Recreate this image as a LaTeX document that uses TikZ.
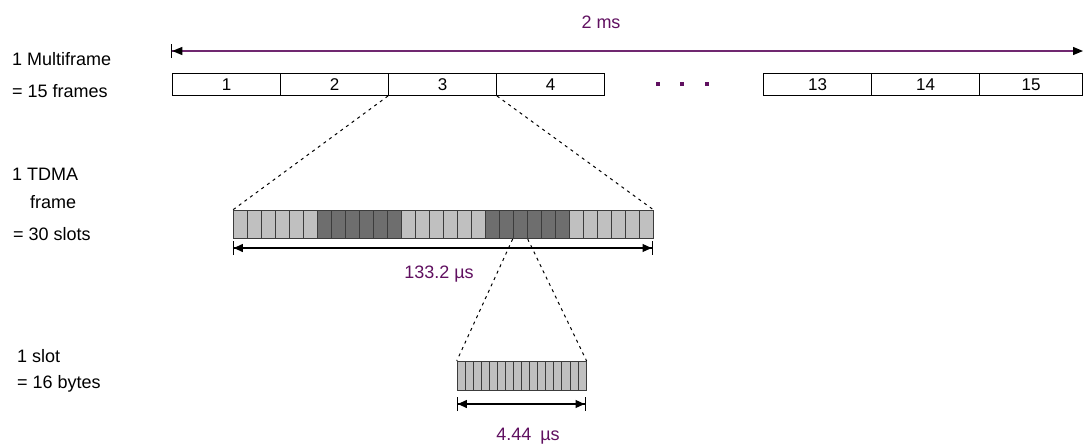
\documentclass[tikz,border=0pt]{standalone}
\usepackage{fontspec}
\setmainfont{Liberation Sans}
\usetikzlibrary{arrows.meta}
\definecolor{plum}{RGB}{96,16,96}
\definecolor{plumline}{RGB}{112,40,112}
\definecolor{lightslot}{RGB}{192,192,192}
\definecolor{darkslot}{RGB}{110,110,110}
\definecolor{slotedge}{RGB}{60,60,60}
\begin{document}
\begin{tikzpicture}[x=1pt,y=-1pt,
  lbl/.style={anchor=base west,inner sep=0pt,font=\fontsize{18}{20}\selectfont},
  plumlbl/.style={anchor=base,inner sep=0pt,text=plum,font=\fontsize{18}{20}\selectfont},
  framebox/.style={draw,line width=1pt,anchor=north west,minimum width=108pt,minimum height=22pt,inner sep=0pt,font=\fontsize{17}{18}\selectfont},
  slotbox/.style={draw=slotedge,line width=1pt,anchor=north west,minimum width=14pt,minimum height=28pt,inner sep=0pt},
  bytebox/.style={draw=slotedge,line width=1pt,fill=lightslot,anchor=north west,minimum width=8.06pt,minimum height=29pt,inner sep=0pt},
  zoomline/.style={line width=1pt,dash pattern=on 3pt off 4pt},
  span/.style={line width=1.2pt,{Bar[width=14pt,line width=1.2pt]Triangle[length=9pt,width=8pt]}-{Triangle[length=9pt,width=8pt]Bar[width=14pt,line width=1.2pt]}},
  dotmark/.style={fill=plum,inner sep=0pt,minimum size=3.5pt}
]
\useasboundingbox (0,0) rectangle (1083,445);

% 2 ms span
\coordinate (msl) at (171,51);
\coordinate (msr) at (1083,51);
\draw[line width=1.3pt,plumline,{Bar[width=14pt,line width=1.3pt,black]Triangle[length=10pt,width=8pt,black]}-{Triangle[length=10pt,width=8pt,black]}] (msl) -- (msr);
\node[plumlbl] (ms) at (601,28) {2\hspace{5pt}ms};

% left labels
\node[lbl] (lm1) at (12,65) {1 Multiframe};
\node[lbl] (lm2) at (12,97) {= 15 frames};
\node[lbl] (lt1) at (12,180) {1 TDMA};
\node[lbl] (lt2) at (30,208) {frame};
\node[lbl] (lt3) at (13,240) {= 30 slots};
\node[lbl] (ls1) at (17,362) {1 slot};
\node[lbl] (ls2) at (17,388) {= 16 bytes};

% frames
\node[framebox] (f1) at (172,73) {1};
\node[framebox] (f2) at (280,73) {2};
\node[framebox] (f3) at (388,73) {3};
\node[framebox] (f4) at (496,73) {4};
\node[dotmark] (d1) at (658,84) {};
\node[dotmark] (d2) at (682,84) {};
\node[dotmark] (d3) at (707,84) {};
\node[framebox] (f13) at (763,73) {13};
\node[framebox] (f14) at (871,73) {14};
\node[framebox,minimum width=103pt] (f15) at (979,73) {15};

% TDMA frame: 30 slots
\foreach \k in {1,...,30}{
  \pgfmathsetmacro{\xx}{232.7+14*(\k-1)}
  \ifnum\k>6 \ifnum\k<13 \def\sc{darkslot}\else
    \ifnum\k>18 \ifnum\k<25 \def\sc{darkslot}\else\def\sc{lightslot}\fi\else\def\sc{lightslot}\fi\fi
  \else\def\sc{lightslot}\fi
  \node[slotbox,fill=\sc] (s\k) at (\xx,210) {};
}
\coordinate (tl) at (232.7,248);
\coordinate (tr) at (652.7,248);
\draw[span] (tl) -- (tr);
\node[plumlbl] (tlab) at (439,278) {133.2 µs};

% slot: 16 bytes
\foreach \k in {1,...,16}{
  \pgfmathsetmacro{\xx}{456.7+8.06*(\k-1)}
  \node[bytebox] (b\k) at (\xx,361) {};
}
\coordinate (bl) at (456.7,404);
\coordinate (br) at (585.7,404);
\draw[span] (bl) -- (br);
\node[plumlbl] (blab) at (528,440) {4.44\hspace{9pt}µs};

% zoom lines
\draw[zoomline] (f3.south west) -- (s1.north west);
\draw[zoomline] (f3.south east) -- (s30.north east);
\draw[zoomline] (s21.south west) -- (b1.north west);
\draw[zoomline] (s21.south east) -- (b16.north east);
\end{tikzpicture}
\end{document}
